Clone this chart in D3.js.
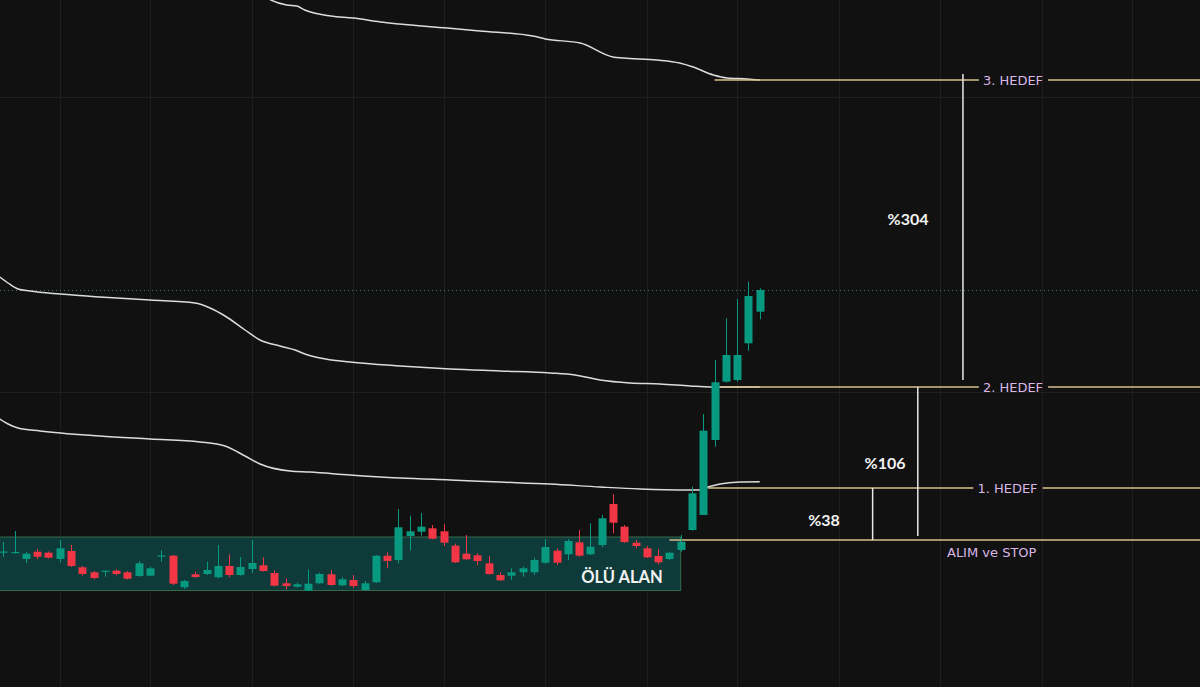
<!DOCTYPE html>
<html><head><meta charset="utf-8">
<script src="https://cdn.jsdelivr.net/npm/d3@7"></script>
<style>html,body{margin:0;padding:0;background:#111111;overflow:hidden}</style>
</head><body><svg id="c" width="1200" height="687"></svg>
<script>
// ---- Data (price units, candle index on x) ----
const candleOpen  = [1.375,1.37,1.31,1.383,1.373,1.31,1.39,1.227,1.177,1.187,1.193,1.177,1.14,1.143,1.34,1.343,1.027,1.157,1.16,1.127,1.24,1.15,1.21,1.247,1.17,1.067,1.033,0.993,1.067,1.157,1.047,1.10,1.00,1.077,1.343,1.30,1.54,1.583,1.617,1.587,1.443,1.363,1.347,1.267,1.15,1.143,1.177,1.177,1.273,1.393,1.357,1.477,1.357,1.45,1.86,1.633,1.473,1.417,1.34,1.31,1.40,1.60,1.75,2.50,3.083,3.10,3.467,3.783];
const candleHigh  = [1.48,1.59,1.383,1.41,1.385,1.50,1.45,1.24,1.19,1.195,1.207,1.19,1.29,1.233,1.397,1.35,1.10,1.183,1.283,1.45,1.357,1.33,1.50,1.327,1.197,1.117,1.073,1.203,1.173,1.20,1.13,1.15,1.09,1.35,1.377,1.81,1.743,1.77,1.65,1.657,1.463,1.55,1.367,1.34,1.177,1.217,1.233,1.323,1.51,1.417,1.51,1.60,1.667,1.75,1.957,1.65,1.50,1.44,1.407,1.383,1.55,2.033,2.76,3.30,3.717,3.91,4.083,4.017];
const candleLow   = [1.33,1.365,1.27,1.31,1.315,1.273,1.23,1.143,1.107,1.133,1.147,1.105,1.133,1.14,1.283,1.05,1.01,1.12,1.15,1.12,1.127,1.143,1.17,1.183,1.037,1.01,1.023,0.99,1.063,1.043,1.037,1.017,0.995,1.07,1.217,1.267,1.397,1.543,1.507,1.44,1.27,1.30,1.25,1.153,1.09,1.10,1.133,1.15,1.263,1.25,1.30,1.333,1.35,1.427,1.567,1.47,1.417,1.32,1.257,1.30,1.383,1.593,1.75,2.433,3.073,3.083,3.393,3.707];
const candleClose = [1.385,1.38,1.363,1.333,1.323,1.417,1.24,1.16,1.12,1.193,1.16,1.113,1.267,1.217,1.345,1.063,1.09,1.13,1.20,1.24,1.15,1.23,1.27,1.19,1.043,1.04,1.057,1.063,1.16,1.05,1.107,1.04,1.067,1.343,1.29,1.627,1.587,1.633,1.513,1.473,1.277,1.307,1.29,1.16,1.097,1.177,1.217,1.30,1.43,1.273,1.49,1.343,1.433,1.717,1.673,1.48,1.44,1.327,1.277,1.373,1.483,1.967,2.593,3.077,3.35,3.35,3.94,4.00];

// band curves: [candle index, price]
const upperBand = [[23.2,6.93],[23.7,6.90],[25.1,6.85],[26.0,6.84],[26.7,6.80],[29.0,6.74],[31.0,6.72],[33.4,6.68],[35.1,6.66],[39.3,6.62],[42.2,6.59],[46.9,6.54],[48.0,6.51],[51.1,6.47],[54.0,6.33],[54.9,6.32],[57.9,6.30],[59.9,6.27],[61.1,6.23],[62.9,6.15],[64.1,6.12],[65.9,6.11],[67,6.10]];
const middleBand = [[-0.3,4.13],[0.42,4.07],[1.3,4.01],[2.36,3.99],[5.02,3.96],[8.56,3.93],[12.99,3.90],[16.98,3.87],[18.31,3.82],[19.64,3.74],[21.41,3.60],[22.74,3.50],[24.51,3.44],[25.84,3.40],[26.72,3.36],[28.05,3.32],[30.71,3.28],[35.14,3.24],[39.57,3.21],[43.99,3.19],[48.42,3.17],[50.64,3.15],[52.85,3.10],[55.51,3.07],[58.17,3.06],[60.83,3.04],[62.6,3.03],[67,3.03]];
const lowerBand = [[-0.3,2.71],[0.42,2.66],[1.3,2.62],[3.25,2.59],[8.56,2.54],[12.99,2.51],[17.42,2.48],[19.64,2.44],[21.41,2.34],[22.74,2.26],[25.39,2.19],[27.17,2.18],[30.71,2.15],[35.14,2.12],[39.57,2.10],[43.99,2.08],[48.42,2.06],[52.85,2.03],[56.39,2.01],[60.8,2.00],[61.7,2.00],[62.42,2.03],[63.48,2.06],[65.25,2.08],[67,2.083]];

const levelLabels = ["ALIM ve STOP","1. HEDEF","2. HEDEF","3. HEDEF"];
const levelPrices = [1.50, 2.02, 3.03, 6.10];
const levelStartIdx = [59, 62.4, 63.5, 63];
const percentLabels = ["%38","%106","%304"];
const gridIdx = [5,13,22,31,39,48,57,65,74,83,92,100];
const gridPrice = [5.93, 2.98];
const zoneLabel = "ÖLÜ ALAN";
const zoneLow = 0.995, zoneHigh = 1.53, zoneStartIdx = -1, zoneEndIdx = 60;
const lastPrice = 4.00;

// ---- Scales ----
const W = 1200, H = 687;
const x = d3.scaleLinear().domain([0, 100]).range([3.3, 1132.3]);
const y = d3.scaleLinear().domain([0, 6.9]).range([690, 0]);
const svg = d3.select("#c");

svg.append("rect").attr("width", W).attr("height", H).attr("fill", "#111111");

// grid
svg.append("g").selectAll("line").data(gridIdx).join("line")
  .attr("x1", d => Math.round(x(d)) + 0.5).attr("x2", d => Math.round(x(d)) + 0.5)
  .attr("y1", 0).attr("y2", H).attr("stroke", "#1f1f1f").attr("stroke-width", 1);
svg.append("g").selectAll("line").data(gridPrice).join("line")
  .attr("y1", d => Math.round(y(d)) + 0.5).attr("y2", d => Math.round(y(d)) + 0.5)
  .attr("x1", 0).attr("x2", W).attr("stroke", "#1f1f1f").attr("stroke-width", 1);

// dead zone
svg.append("rect")
  .attr("x", x(zoneStartIdx)).attr("y", y(zoneHigh))
  .attr("width", x(zoneEndIdx) - x(zoneStartIdx)).attr("height", y(zoneLow) - y(zoneHigh))
  .attr("fill", "#0f3a3a").attr("stroke", "#356b4d").attr("stroke-width", 1);

// last price dotted line
svg.append("line").attr("x1", 0).attr("x2", W)
  .attr("y1", Math.round(y(lastPrice)) + 0.5).attr("y2", Math.round(y(lastPrice)) + 0.5)
  .attr("stroke", "#3f7474").attr("stroke-width", 1).attr("stroke-dasharray", "1 3");

// bands
const line = d3.line().x(d => x(d[0])).y(d => y(d[1])).curve(d3.curveMonotoneX);
[upperBand, middleBand, lowerBand].forEach(b => {
  svg.append("path").attr("d", line(b)).attr("fill", "none")
    .attr("stroke", "#dcdcdc").attr("stroke-width", 1.5);
});

// levels
const labelX = [991.7, 1007.5, 1013, 1013];
levelPrices.forEach((p, i) => {
  const yy = y(p);
  const t = svg.append("text").text(levelLabels[i])
    .attr("font-family", "DejaVu Sans").attr("font-size", 13).attr("fill", "#dab6e6")
    .attr("text-anchor", "middle").attr("dominant-baseline", "central")
    .attr("x", labelX[i]).attr("y", i === 0 ? yy + 12 : yy);
  const bb = t.node().getBBox();
  const x0 = x(levelStartIdx[i]);
  if (i === 0) {
    svg.insert("line", "text").attr("x1", x0).attr("x2", W).attr("y1", yy).attr("y2", yy)
      .attr("stroke", "#d4c08a").attr("stroke-width", 1.5);
  } else {
    svg.insert("line", "text").attr("x1", x0).attr("x2", bb.x - 4).attr("y1", yy).attr("y2", yy)
      .attr("stroke", "#d4c08a").attr("stroke-width", 1.5);
    svg.insert("line", "text").attr("x1", bb.x + bb.width + 5).attr("x2", W).attr("y1", yy).attr("y2", yy)
      .attr("stroke", "#d4c08a").attr("stroke-width", 1.5);
  }
});

// measurement lines
const measureIdx = [77, 81, 85];
const measureFrom = [levelPrices[0], levelPrices[0] + 0.04, levelPrices[2] + 0.07];
const measureTo = [levelPrices[1], levelPrices[2], levelPrices[3] + 0.06];
const textPos = [[824, 519], [885, 462], [908, 218]];
measureIdx.forEach((m, i) => {
  svg.append("line").attr("x1", x(m)).attr("x2", x(m))
    .attr("y1", y(measureFrom[i])).attr("y2", y(measureTo[i]))
    .attr("stroke", "#e8e8e8").attr("stroke-width", 1.5);
  svg.append("text").text(percentLabels[i])
    .attr("x", textPos[i][0]).attr("y", textPos[i][1])
    .attr("text-anchor", "middle").attr("dominant-baseline", "central")
    .attr("font-family", "Lato").attr("font-weight", "bold").attr("font-size", 16)
    .attr("fill", "#f2f2f2");
});

// candles
const cw = 8;
const candles = d3.range(candleOpen.length).map(i => ({
  i, o: candleOpen[i], h: candleHigh[i], l: candleLow[i], c: candleClose[i]
}));
const cg = svg.append("g").selectAll("g").data(candles).join("g");
const col = d => d.c >= d.o ? "#089981" : "#f23645";
cg.append("line")
  .attr("x1", d => Math.round(x(d.i)) + 0.5).attr("x2", d => Math.round(x(d.i)) + 0.5)
  .attr("y1", d => y(d.h)).attr("y2", d => y(d.l))
  .attr("stroke", col).attr("stroke-width", 1);
cg.append("rect")
  .attr("x", d => Math.round(x(d.i)) + 0.5 - cw / 2)
  .attr("y", d => y(Math.max(d.o, d.c)))
  .attr("width", cw)
  .attr("height", d => Math.max(1.2, Math.abs(y(d.o) - y(d.c))))
  .attr("fill", col);

// zone label
svg.append("text").text(zoneLabel)
  .attr("x", 622).attr("y", 582.5).attr("text-anchor", "middle")
  .attr("font-family", "Lato").attr("font-weight", "bold").attr("font-size", 16.5)
  .attr("fill", "#f2f2f2");
</script>
</body></html>
